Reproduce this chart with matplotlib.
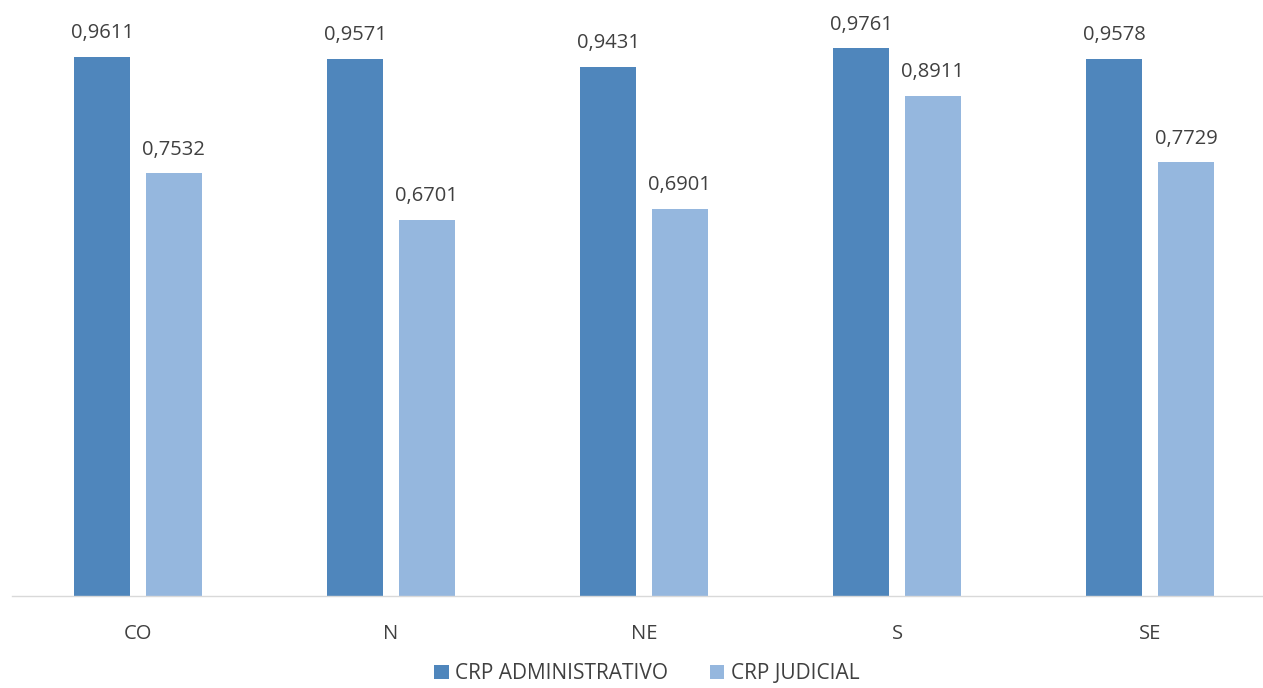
import matplotlib

matplotlib.use("Agg")
import matplotlib.pyplot as plt
import numpy as np

regions = ["CO", "N", "NE", "S", "SE"]
crp_admin = [0.9611, 0.9571, 0.9431, 0.9761, 0.9578]
crp_judicial = [0.7532, 0.6701, 0.6901, 0.8911, 0.7729]
series_labels = ["CRP ADMINISTRATIVO", "CRP JUDICIAL"]

ADMIN_C, JUD_C, TEXT_C = "#4F86BC", "#95B7DE", "#404040"

plt.rcParams["font.family"] = ["Open Sans", "DejaVu Sans"]

fig = plt.figure(figsize=(12.63, 6.88), dpi=100)
# category slots are slightly wider than the canvas; right edge runs off
ax = fig.add_axes([11.5 / 1263, 92 / 688, 1265 / 1263, 561 / 688])

x = np.arange(len(regions))
w, gap = 0.221, 0.063
off = (w + gap) / 2
b1 = ax.bar(x - off, crp_admin, w, color=ADMIN_C, label=series_labels[0])
b2 = ax.bar(x + off, crp_judicial, w, color=JUD_C, label=series_labels[1])

for bars, vals in ((b1, crp_admin), (b2, crp_judicial)):
    for rect, v in zip(bars, vals):
        ax.annotate(f"{v:.4f}".replace(".", ","),
                    (rect.get_x() + rect.get_width() / 2, v),
                    xytext=(0, 10), textcoords="offset points",
                    ha="center", va="bottom", fontsize=14.5, color=TEXT_C)

ax.set_xlim(-0.5, len(regions) - 0.5)
ax.set_ylim(0, 1.0)
ax.set_xticks(x)
ax.set_xticklabels(regions, fontsize=14.5, color=TEXT_C)
ax.tick_params(axis="x", length=0, pad=20)
ax.set_yticks([])
for side in ("top", "right", "left"):
    ax.spines[side].set_visible(False)
ax.spines["bottom"].set_color("#d9d9d9")
ax.spines["bottom"].set_linewidth(1.0)

leg = fig.legend(loc="lower center", bbox_to_anchor=(0.512, -0.022), ncol=2,
                 frameon=False, fontsize=15, handlelength=0.7,
                 handleheight=0.7, handletextpad=0.3, columnspacing=2.0)
for t in leg.get_texts():
    t.set_color(TEXT_C)

fig.savefig("out.png", dpi=100)
